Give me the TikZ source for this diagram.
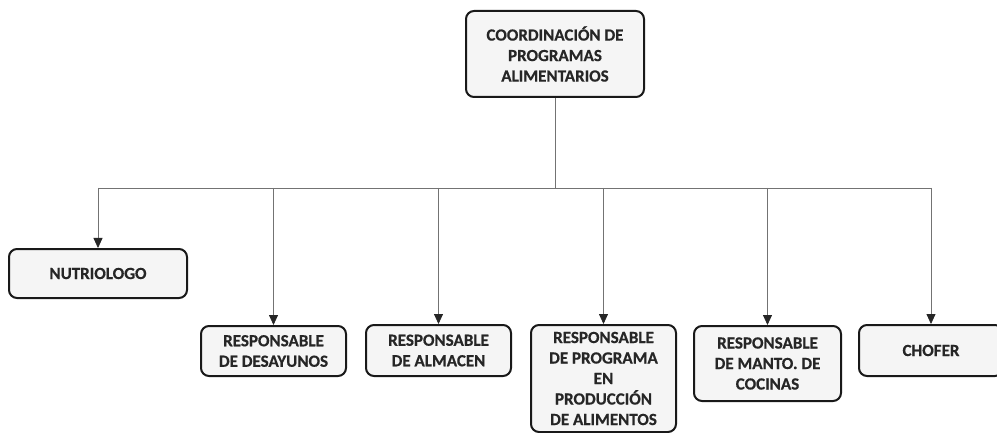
\documentclass[tikz,border=0pt]{standalone}
\usepackage{fontspec}
\setmainfont{Carlito}[BoldFeatures={FakeBold=0.6}]
\usetikzlibrary{arrows.meta}
\begin{document}
\begin{tikzpicture}[x=1pt,y=-1pt,
  orgbox/.style={draw=black!90, line width=2pt, rounded corners=8pt, fill=black!4,
    align=center, inner sep=2pt, text=black!85,
    font=\fontsize{17}{20.5}\selectfont\bfseries},
  conn/.style={draw=black!55, line width=0.8pt},
  arr/.style={conn, -{Triangle[length=10pt,width=9pt,color=black!85]}}]
\useasboundingbox (0,0) rectangle (997,433);
\fill[white] (0,0) rectangle (997,433);
\node[orgbox, minimum width=178pt, minimum height=86pt] (top) at (555,54) {COORDINACIÓN DE\\PROGRAMAS\\ALIMENTARIOS};
\node[orgbox, minimum width=178pt, minimum height=49pt] (nut) at (98,273.5) {NUTRIOLOGO};
\node[orgbox, minimum width=145pt, minimum height=50pt] (des) at (273.5,351) {RESPONSABLE\\DE DESAYUNOS};
\node[orgbox, minimum width=145pt, minimum height=51pt] (alm) at (438.5,350.5) {RESPONSABLE\\DE ALMACEN};
\node[orgbox, minimum width=145pt, minimum height=107pt] (prod) at (603.5,378.5) {RESPONSABLE\\DE PROGRAMA\\EN\\PRODUCCIÓN\\DE ALIMENTOS};
\node[orgbox, minimum width=147pt, minimum height=75pt] (manto) at (767.5,363.5) {RESPONSABLE\\DE MANTO. DE\\COCINAS};
\node[orgbox, minimum width=144pt, minimum height=51pt] (chof) at (931,350.5) {CHOFER};
\coordinate (bus) at (556,188);
\draw[conn] (top.south) -- (top.south |- bus);
\draw[conn] (nut.north |- bus) -- (chof.north |- bus);
\foreach \n in {nut,des,alm,prod,manto,chof}
  \draw[arr] (\n.north |- bus) -- (\n.north);
\end{tikzpicture}
\end{document}
